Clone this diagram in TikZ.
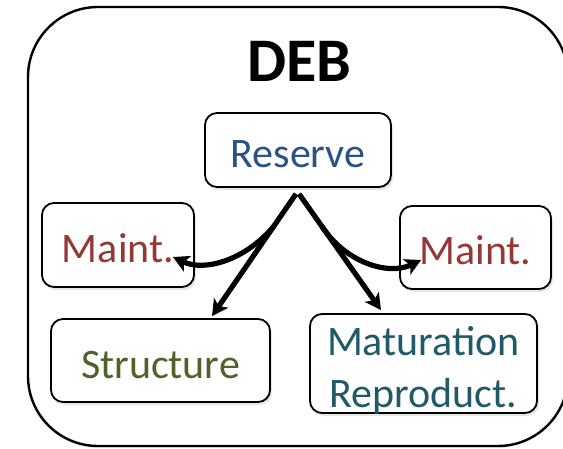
\documentclass[tikz,border=0pt]{standalone}
\usepackage{fontspec}
\setmainfont{Carlito}
\usetikzlibrary{arrows.meta,shadows}
\definecolor{resblue}{HTML}{2B5285}
\definecolor{maintred}{HTML}{953735}
\definecolor{strgreen}{HTML}{4F6228}
\definecolor{matteal}{HTML}{215968}
\begin{document}
\begin{tikzpicture}[x=1pt,y=1pt,line join=round,
	box/.style={draw,line width=1.8pt,rounded corners=12pt,fill=white,inner sep=0pt,
		text height=35pt,text depth=0pt,font=\fontsize{42}{52}\selectfont,
		drop shadow={opacity=.2,shadow xshift=2pt,shadow yshift=-3pt}},
	flow/.style={line width=5.2pt,-{Stealth[length=16pt,width=17pt,inset=4pt]}}]
	\path[use as bounding box,clip] (0,0) rectangle (563,448);
	\draw[line width=2.4pt,rounded corners=70pt,fill=white,drop shadow={opacity=.15,shadow xshift=-1pt,shadow yshift=-2pt}] (28,2) rectangle (568,441);
	\node[font=\fontsize{62}{70}\selectfont\bfseries,anchor=base] (deb) at (299.5,366) {DEB};
	\node[box,minimum width=186pt,minimum height=74pt,text=resblue] (res) at (298,298) {Reserve};
	\node[box,minimum width=152pt,minimum height=84pt,text=maintred] (ml) at (118,203) {Maint.};
	\node[box,minimum width=151pt,minimum height=83pt,text=maintred] (mr) at (475.5,200.5) {Maint.};
	\node[box,minimum width=219pt,minimum height=83pt,text=strgreen] (str) at (160.5,87.5) {Structure};
	\node[box,minimum width=227pt,minimum height=99pt,text=matteal,align=center,text height=87pt] (mat) at (423.5,84.5) {Maturation\\Reproduct.};
	\coordinate (fork) at ([yshift=-6pt]res.south);
	\draw[flow] ([xshift=-2pt]fork) -- ([xshift=51.5pt,yshift=2pt]str.north) coordinate[pos=.27] (sb);
	\draw[flow] ([xshift=1pt]fork) -- ([xshift=-42.5pt,yshift=3pt]mat.north) coordinate[pos=.28] (mb);
	\draw[flow] (sb) .. controls (245,188) and (205,176) .. ([shift={(-22pt,-12pt)}]ml.east);
	\draw[flow] (mb) .. controls (345,186) and (388,172) .. ([shift={(22pt,-12.5pt)}]mr.west);
\end{tikzpicture}
\end{document}
